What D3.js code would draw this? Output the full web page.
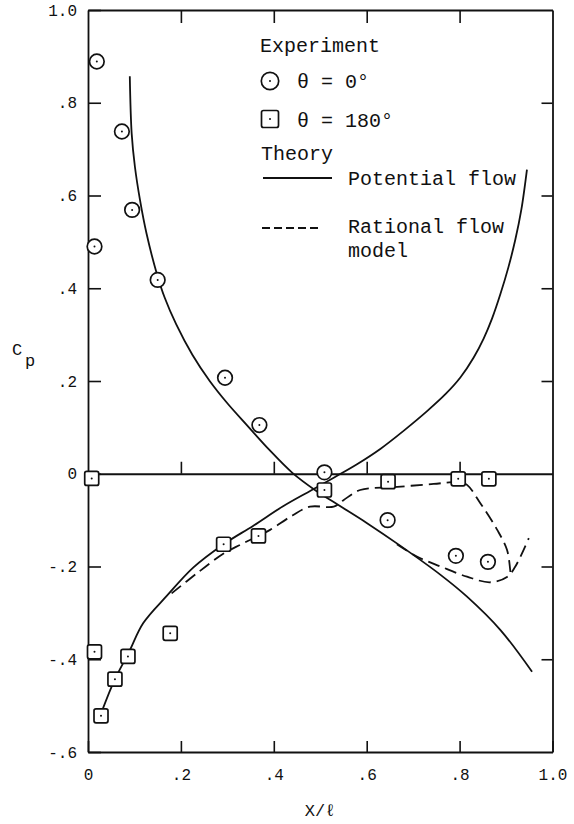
<!DOCTYPE html>
<html>
<head>
<meta charset="utf-8">
<script src="https://cdn.jsdelivr.net/npm/d3@7"></script>
<style>
  html, body { margin: 0; padding: 0; background: #fff; }
  svg { display: block; }
  text { font-family: "Liberation Mono", "DejaVu Sans Mono", monospace; fill: #111; }
</style>
</head>
<body>
<svg id="chart" width="574" height="824"></svg>
<script>
// Pressure coefficient along the body, x/l from nose to tail
const xTickValues = [0, 0.2, 0.4, 0.6, 0.8, 1.0];
const xTickLabels = ["0", ".2", ".4", ".6", ".8", "1.0"];
const yTickValues = [1.0, 0.8, 0.6, 0.4, 0.2, 0, -0.2, -0.4, -0.6];
const yTickLabels = ["1.0", ".8", ".6", ".4", ".2", "0", "-.2", "-.4", "-.6"];

// Experiment, theta = 0 deg  [x/l, Cp]
const expTheta0 = [
  [0.019, 0.889], [0.073, 0.738], [0.095, 0.569], [0.014, 0.490],
  [0.150, 0.418], [0.295, 0.207], [0.369, 0.105], [0.509, 0.003],
  [0.645, -0.100], [0.792, -0.177], [0.861, -0.190]
];
// Experiment, theta = 180 deg
const expTheta180 = [
  [0.008, -0.010], [0.014, -0.384], [0.028, -0.522], [0.058, -0.443],
  [0.086, -0.394], [0.177, -0.344], [0.292, -0.152], [0.367, -0.134],
  [0.509, -0.035], [0.646, -0.017], [0.797, -0.011], [0.863, -0.011]
];

// Potential flow theory, theta = 0 side
const potentialTheta0 = [
  [0.090, 0.857], [0.094, 0.734], [0.101, 0.662], [0.112, 0.590],
  [0.126, 0.518], [0.148, 0.432], [0.165, 0.380], [0.190, 0.322],
  [0.225, 0.256], [0.262, 0.200], [0.300, 0.152], [0.342, 0.105],
  [0.390, 0.052], [0.440, 0.002], [0.490, -0.036], [0.540, -0.068],
  [0.600, -0.106], [0.672, -0.155], [0.759, -0.218], [0.816, -0.265],
  [0.888, -0.337], [0.956, -0.427]
];
// Potential flow theory, theta = 180 side
const potentialTheta180 = [
  [0.030, -0.512], [0.058, -0.443], [0.088, -0.385], [0.119, -0.322],
  [0.170, -0.263], [0.227, -0.202], [0.292, -0.152], [0.356, -0.112],
  [0.420, -0.070], [0.480, -0.036], [0.530, -0.008], [0.580, 0.021],
  [0.630, 0.054], [0.680, 0.093], [0.730, 0.135], [0.770, 0.172],
  [0.802, 0.208], [0.830, 0.250], [0.852, 0.292], [0.870, 0.335],
  [0.888, 0.388], [0.905, 0.445], [0.920, 0.505], [0.933, 0.570],
  [0.945, 0.656]
];

// Rational flow model, theta = 180 side
const rationalTheta180 = [
  [0.180, -0.258], [0.234, -0.215], [0.292, -0.172], [0.328, -0.153],
  [0.367, -0.134], [0.392, -0.121], [0.440, -0.090], [0.478, -0.071],
  [0.529, -0.071], [0.550, -0.057], [0.586, -0.035], [0.658, -0.029],
  [0.744, -0.022], [0.800, -0.018], [0.816, -0.024], [0.845, -0.064],
  [0.881, -0.121], [0.902, -0.164], [0.909, -0.208], [0.910, -0.220]
];
// Rational flow model, theta = 0 side
const rationalTheta0 = [
  [0.665, -0.152], [0.709, -0.179], [0.759, -0.200], [0.816, -0.222],
  [0.866, -0.234], [0.903, -0.222], [0.920, -0.200], [0.949, -0.139]
];

const svg = d3.select("#chart");
const ink = "#111";

const x = d3.scaleLinear().domain([0, 1]).range([88, 552.5]);
const y = d3.scaleLinear().domain([-0.6, 1.0]).range([752, 10]);

function styleAxis(g) {
  g.selectAll("path.domain").attr("stroke", ink).attr("stroke-width", 1.8);
  g.selectAll(".tick line").attr("stroke", ink).attr("stroke-width", 1.6);
  g.selectAll(".tick text").attr("fill", ink).style("font-size", "16px")
    .style("font-family", "'Liberation Mono', 'DejaVu Sans Mono', monospace");
}

// Frame with inward ticks
svg.append("g").attr("transform", `translate(0,${y(-0.6)})`)
  .call(d3.axisBottom(x).tickValues(xTickValues)
    .tickFormat((d, i) => xTickLabels[i])
    .tickSizeInner(-11).tickSizeOuter(0).tickPadding(17))
  .call(styleAxis);

svg.append("g").attr("transform", `translate(${x(0)},0)`)
  .call(d3.axisLeft(y).tickValues(yTickValues)
    .tickFormat((d, i) => yTickLabels[i])
    .tickSizeInner(-13).tickSizeOuter(0).tickPadding(11))
  .call(styleAxis);

svg.append("g").attr("transform", `translate(0,${y(1.0)})`)
  .call(d3.axisTop(x).tickValues([0.2, 0.4, 0.6, 0.8]).tickFormat("")
    .tickSizeInner(-13).tickSizeOuter(0))
  .call(styleAxis);

svg.append("g").attr("transform", `translate(${x(1)},0)`)
  .call(d3.axisRight(y).tickValues([0.8, 0.6, 0.4, 0.2, -0.2, -0.4]).tickFormat("")
    .tickSizeInner(-11).tickSizeOuter(0))
  .call(styleAxis);

// Cp = 0 reference line with upward ticks
svg.append("g").attr("transform", `translate(0,${y(0)})`)
  .call(d3.axisTop(x).tickValues([0.2, 0.4, 0.6, 0.8]).tickFormat("")
    .tickSizeInner(12).tickSizeOuter(0))
  .call(styleAxis);

// Axis titles
svg.append("text").attr("x", 12).attr("y", 355).style("font-size", "17px").text("C");
svg.append("text").attr("x", 25).attr("y", 366).style("font-size", "17px").text("p");
svg.append("text").attr("x", 320).attr("y", 816).attr("text-anchor", "middle")
  .style("font-size", "17px").text("X/ℓ");

// Theory curves
const line = d3.line().x(d => x(d[0])).y(d => y(d[1])).curve(d3.curveCatmullRom.alpha(0.5));
const curves = svg.append("g").attr("fill", "none").attr("stroke", ink)
  .attr("stroke-width", 1.8).attr("stroke-linejoin", "round");
curves.append("path").attr("d", line(potentialTheta0));
curves.append("path").attr("d", line(potentialTheta180));
curves.append("path").attr("d", line(rationalTheta180)).attr("stroke-dasharray", "12,6");
curves.append("path").attr("d", line(rationalTheta0)).attr("stroke-dasharray", "12,6");

// Experiment markers
function circleMark(g, cx, cy, r) {
  g.append("circle").attr("cx", cx).attr("cy", cy).attr("r", r)
    .attr("fill", "#fff").attr("stroke", ink).attr("stroke-width", 1.7);
  g.append("circle").attr("cx", cx).attr("cy", cy).attr("r", 1).attr("fill", ink);
}
function squareMark(g, cx, cy, h) {
  g.append("rect").attr("x", cx - h).attr("y", cy - h).attr("width", 2 * h).attr("height", 2 * h)
    .attr("rx", 2).attr("fill", "#fff").attr("stroke", ink).attr("stroke-width", 1.7);
  g.append("circle").attr("cx", cx).attr("cy", cy).attr("r", 1).attr("fill", ink);
}
const marks = svg.append("g");
expTheta180.forEach(d => squareMark(marks, x(d[0]), y(d[1]), 7));
expTheta0.forEach(d => circleMark(marks, x(d[0]), y(d[1]), 7.3));

// Legend
const lg = svg.append("g").style("font-size", "20px");
lg.append("text").attr("x", 260).attr("y", 52).text("Experiment");
circleMark(lg, 270, 81, 8.7);
lg.append("text").attr("x", 297).attr("y", 88).text("θ = 0°");
squareMark(lg, 270, 119, 8.5);
lg.append("text").attr("x", 297).attr("y", 127).text("θ = 180°");
lg.append("text").attr("x", 261).attr("y", 160).text("Theory");
lg.append("line").attr("x1", 263).attr("x2", 332).attr("y1", 178).attr("y2", 178)
  .attr("stroke", ink).attr("stroke-width", 1.8);
lg.append("text").attr("x", 348).attr("y", 185).text("Potential flow");
lg.append("line").attr("x1", 262).attr("x2", 322).attr("y1", 228).attr("y2", 228)
  .attr("stroke", ink).attr("stroke-width", 1.8).attr("stroke-dasharray", "8,4");
lg.append("text").attr("x", 348).attr("y", 233).text("Rational flow");
lg.append("text").attr("x", 348).attr("y", 257).text("model");
</script>
</body>
</html>
